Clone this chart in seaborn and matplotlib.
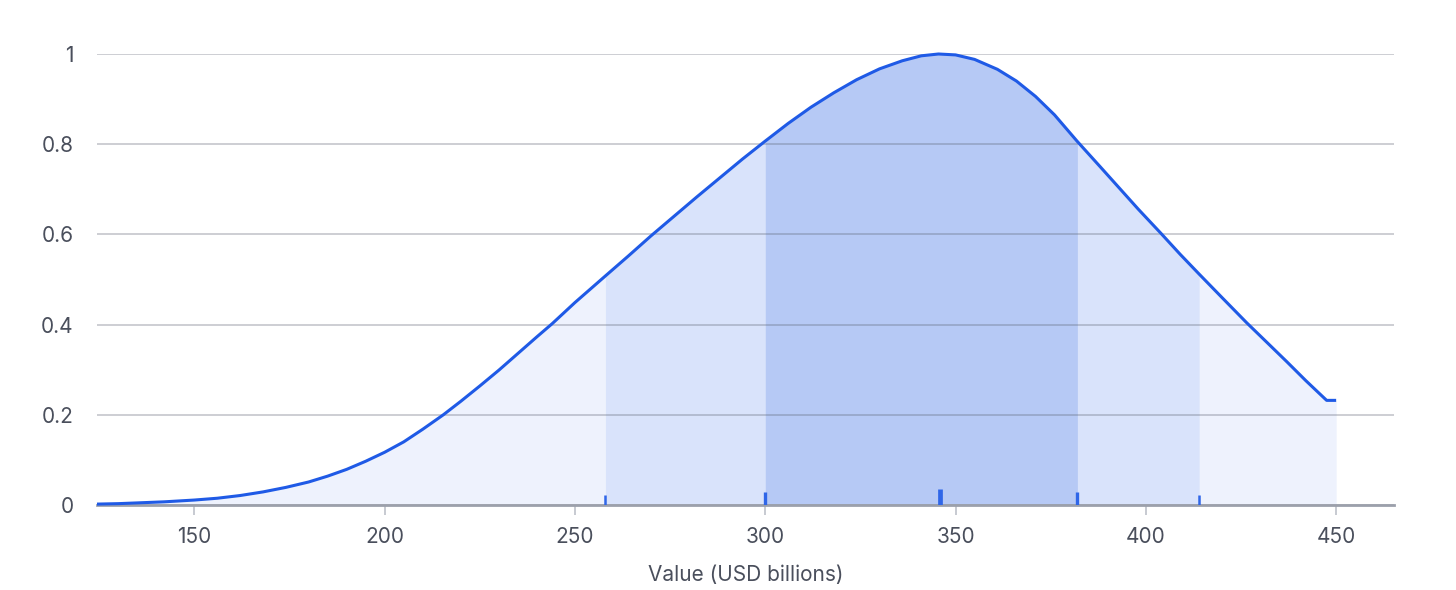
import matplotlib
matplotlib.use("Agg")
import matplotlib.pyplot as plt
import seaborn as sns
import pandas as pd

# ---- data ----
curve_x = [124.4, 130, 136, 142, 150, 156, 162, 168, 174, 180, 185, 190, 195,
           200, 205, 210, 215.4, 220, 225, 230, 235, 240, 244, 250, 258, 264,
           270, 276, 282, 288, 294, 300, 306, 312, 318, 324, 330, 336, 341,
           345.5, 350, 355, 361, 366, 371, 376, 382, 388, 393, 398, 404, 409,
           414, 420, 426.5, 432, 437, 442, 447.5, 450]
curve_y = [0.002, 0.003, 0.005, 0.007, 0.011, 0.015, 0.021, 0.029, 0.039, 0.051,
           0.064, 0.079, 0.097, 0.117, 0.140, 0.168, 0.200, 0.230, 0.264, 0.299,
           0.336, 0.373, 0.402, 0.449, 0.508, 0.552, 0.597, 0.640, 0.683, 0.725,
           0.767, 0.807, 0.846, 0.882, 0.914, 0.943, 0.967, 0.985, 0.996, 1.0,
           0.998, 0.988, 0.966, 0.940, 0.906, 0.865, 0.806, 0.750, 0.703, 0.656,
           0.602, 0.556, 0.512, 0.460, 0.404, 0.359, 0.318, 0.276, 0.232, 0.232]
p5, p25, p50, p75, p95 = 258, 300, 346, 382, 414
x_ticks = [150, 200, 250, 300, 350, 400, 450]
y_ticks = [0, 0.2, 0.4, 0.6, 0.8, 1]
y_tick_labels = ["0", "0.2", "0.4", "0.6", "0.8", "1"]
x_label = "Value (USD billions)"

# ---- style ----
sns.set_theme(style="white")
plt.rcParams["font.family"] = ["Inter", "DejaVu Sans"]
text_color = "#4a4f5c"
line_color = "#1f5ae6"

fig = plt.figure(figsize=(14.56, 5.90), dpi=100)
ax = fig.add_axes([97 / 1456, 85 / 590, 1297 / 1456, 451 / 590])

df = pd.DataFrame({"x": curve_x, "y": curve_y})

def band(lo, hi):
    sub = df[(df.x >= lo) & (df.x <= hi)]
    return sub.x, sub.y

bx, by = band(curve_x[0], curve_x[-1])
ax.fill_between(bx, 0, by, color="#eef2fd", lw=0, zorder=1)
bx, by = band(p5, p95)
ax.fill_between(bx, 0, by, color="#d9e3fb", lw=0, zorder=1.1)
bx, by = band(p25, p75)
ax.fill_between(bx, 0, by, color="#b6c9f5", lw=0, zorder=1.2)

sns.lineplot(data=df, x="x", y="y", ax=ax, color=line_color, lw=2.2,
             zorder=4, clip_on=False, estimator=None, sort=False)
for l in ax.lines:
    l.set_solid_joinstyle("round")
    l.set_solid_capstyle("butt")

# percentile ticks at baseline
ax.vlines([p5, p95], 0, 0.022, color="#2f66e8", lw=1.8, zorder=5)
ax.vlines([p25, p75], 0, 0.028, color="#2f66e8", lw=2.4, zorder=5)
ax.vlines([p50], 0, 0.036, color="#2f66e8", lw=3.4, zorder=5)

ax.set_xlim(124.4, 465.2)
ax.set_ylim(0, 1)
ax.set_xticks(x_ticks)
ax.set_xticklabels([str(t) for t in x_ticks])
ax.set_yticks(y_ticks)
ax.set_yticklabels(y_tick_labels)

ax.set_axisbelow(False)
ax.yaxis.grid(True, color="#5b6171", alpha=0.33, lw=1.3, zorder=3)
ax.xaxis.grid(False)

for s in ["top", "right", "left"]:
    ax.spines[s].set_visible(False)
ax.spines["bottom"].set_color("#9ca0ab")
ax.spines["bottom"].set_linewidth(2)
ax.spines["bottom"].set_zorder(3.5)

ax.tick_params(axis="x", length=7, width=1.3, color="#c3c6ce", pad=9,
               labelsize=15, labelcolor=text_color, direction="out")
ax.tick_params(axis="y", length=0, pad=17, labelsize=15, labelcolor=text_color)
ax.xaxis.set_ticks_position("bottom")

ax.set_xlabel(x_label, fontsize=15, color=text_color, labelpad=13)
ax.set_ylabel("")

fig.savefig("out.png", dpi=100)
